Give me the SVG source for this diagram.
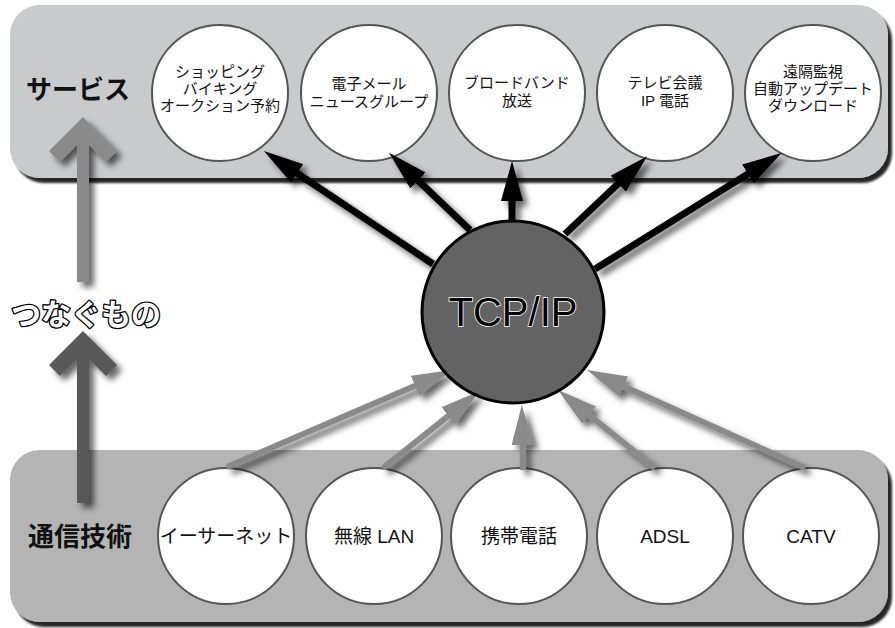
<svg xmlns="http://www.w3.org/2000/svg" width="895" height="628" viewBox="0 0 895 628">
<defs>
<filter id="pshadow" x="-5%" y="-10%" width="115%" height="130%">
<feDropShadow dx="4" dy="5" stdDeviation="1.2" flood-color="#000" flood-opacity="0.85"/>
</filter>
<filter id="ashadow" x="-30%" y="-30%" width="160%" height="160%">
<feDropShadow dx="5" dy="5" stdDeviation="3" flood-color="#000" flood-opacity="0.6"/>
</filter>
<marker id="hb" markerUnits="userSpaceOnUse" markerWidth="42" markerHeight="24" refX="2" refY="11" orient="auto">
<path d="M0,0 L40,11 L0,22 Z" fill="#000"/>
</marker>
<marker id="hg" markerUnits="userSpaceOnUse" markerWidth="42" markerHeight="24" refX="2" refY="11" orient="auto">
<path d="M0,0 L40,11 L0,22 Z" fill="#8a8a8a"/>
</marker>
</defs>
<style>
.node{fill:#fff;stroke:#555;stroke-width:2}
.t{font-family:"Liberation Sans","Noto Sans CJK JP",sans-serif;font-size:15px;fill:#111;text-anchor:middle}
.tb{font-family:"Liberation Sans","Noto Sans CJK JP",sans-serif;font-size:19px;fill:#111;text-anchor:middle}
.lbl{font-family:"Noto Sans CJK JP",sans-serif;font-size:26px;font-weight:bold;fill:#111;text-anchor:middle}
.blk{stroke:#000;stroke-width:7;fill:none}
.gry{stroke:#8a8a8a;stroke-width:6;fill:none}
</style>

<g id="panel-services">
<rect x="10" y="5" width="878" height="173" rx="30" fill="#c9cacc" filter="url(#pshadow)"/>
<text class="lbl" x="78" y="99">サービス</text>
</g>
<g id="panel-tech">
<rect x="10" y="450" width="878" height="172" rx="30" fill="#b4b4b4" filter="url(#pshadow)"/>
<text class="lbl" x="80" y="546">通信技術</text>
</g>

<g id="side-arrows" filter="url(#ashadow)">
<polygon points="83,117 117,151 106,162 89,145 89,282 77,282 77,145 60,162 49,151" fill="#8a8a8a"/>
<polygon points="83,331 117,365 106,376 89,359 89,503 77,503 77,359 60,376 49,365" fill="#595959"/>
</g>
<g id="tsunagumono">
<text x="86" y="325" font-family="Noto Sans CJK JP,sans-serif" font-size="30" font-weight="bold" text-anchor="middle" fill="#fff" stroke="#000" stroke-width="2.6" stroke-linejoin="round" paint-order="stroke">つなぐもの</text>
</g>

<g id="svc1"><circle class="node" cx="220" cy="93" r="68"/>
<text class="t" x="220" y="77">ショッピング</text><text class="t" x="220" y="94">バイキング</text><text class="t" x="220" y="111">オークション予約</text></g>
<g id="svc2"><circle class="node" cx="369" cy="93" r="68"/>
<text class="t" x="369" y="89">電子メール</text><text class="t" x="369" y="107">ニュースグループ</text></g>
<g id="svc3"><circle class="node" cx="517" cy="93" r="68"/>
<text class="t" x="517" y="88">ブロードバンド</text><text class="t" x="517" y="106">放送</text></g>
<g id="svc4"><circle class="node" cx="665" cy="93" r="68"/>
<text class="t" x="665" y="88">テレビ会議</text><text class="t" x="665" y="106">IP 電話</text></g>
<g id="svc5"><circle class="node" cx="813" cy="93" r="68"/>
<text class="t" x="813" y="77">遠隔監視</text><text class="t" x="813" y="94">自動アップデート</text><text class="t" x="813" y="111">ダウンロード</text></g>

<g id="tech1"><circle class="node" cx="226" cy="536" r="68"/><text class="tb" x="226" y="543">イーサーネット</text></g>
<g id="tech2"><circle class="node" cx="374" cy="536" r="68"/><text class="tb" x="374" y="543">無線 LAN</text></g>
<g id="tech3"><circle class="node" cx="519" cy="536" r="68"/><text class="tb" x="519" y="543">携帯電話</text></g>
<g id="tech4"><circle class="node" cx="665" cy="536" r="68"/><text class="tb" x="665" y="543">ADSL</text></g>
<g id="tech5"><circle class="node" cx="811" cy="536" r="68"/><text class="tb" x="811" y="543">CATV</text></g>

<g id="connectors" filter="url(#ashadow)">
<line class="blk" x1="433" y1="264" x2="295.5" y2="172.2" marker-end="url(#hb)"/>
<line class="blk" x1="470" y1="230" x2="416.5" y2="179" marker-end="url(#hb)"/>
<line class="blk" x1="512" y1="221" x2="512" y2="199" marker-end="url(#hb)"/>
<line class="blk" x1="565" y1="234" x2="619.7" y2="182.3" marker-end="url(#hb)"/>
<line class="blk" x1="595" y1="269" x2="749.6" y2="172.9" marker-end="url(#hb)"/>
<line class="gry" x1="227" y1="467" x2="417" y2="385" marker-end="url(#hg)"/>
<line class="gry" x1="383" y1="468" x2="450" y2="414.6" marker-end="url(#hg)"/>
<line class="gry" x1="523" y1="470" x2="522.5" y2="443" marker-end="url(#hg)"/>
<line class="gry" x1="655" y1="468" x2="587.6" y2="413.8" marker-end="url(#hg)"/>
<line class="gry" x1="805" y1="468" x2="621.7" y2="385.6" marker-end="url(#hg)"/>
</g>

<g id="tcpip">
<circle cx="513" cy="312" r="91" fill="#636363" stroke="#000" stroke-width="3"/>
<text x="513" y="326" font-family="Liberation Sans,sans-serif" font-size="40" text-anchor="middle" fill="#000" stroke="#fff" stroke-width="1.6" paint-order="stroke">TCP/IP</text>
</g>
</svg>
